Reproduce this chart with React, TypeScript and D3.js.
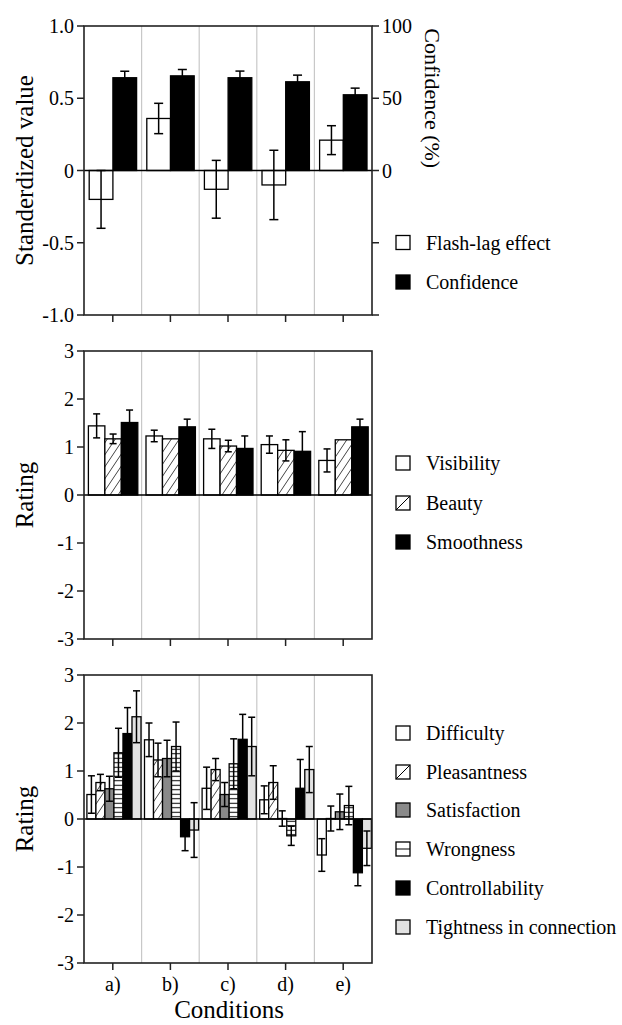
import React from "react";
import * as d3 from "d3";

// ---------- data ----------
const conditions = ["a)", "b)", "c)", "d)", "e)"];

// top panel
const flashLag = [-0.2, 0.36, -0.13, -0.1, 0.21];
const flashLagErr = [0.2, 0.105, 0.2, 0.24, 0.1];
const confidence = [64.2, 65.5, 64.2, 61.4, 52.4];
const confidenceErr = [4.5, 4.4, 4.6, 4.6, 4.6];
const topLeftTicks = [-1, -0.5, 0, 0.5, 1];
const topLeftTickLabels = ["-1.0", "-0.5", "0", "0.5", "1.0"];
const topRightTicks = [-100, -50, 0, 50, 100];
const topRightTickLabels = ["", "", "0", "50", "100"];

// middle panel
const visibility = [1.44, 1.23, 1.17, 1.05, 0.72];
const visibilityErr = [0.25, 0.12, 0.2, 0.18, 0.24];
const beauty = [1.17, 1.17, 1.02, 0.93, 1.15];
const beautyErr = [0.1, 0, 0.12, 0.22, 0];
const smoothness = [1.51, 1.42, 0.97, 0.91, 1.42];
const smoothnessErr = [0.26, 0.16, 0.26, 0.41, 0.16];

// bottom panel
const difficulty = [0.51, 1.65, 0.64, 0.4, -0.75];
const difficultyErr = [0.39, 0.35, 0.44, 0.29, 0.34];
const pleasantness = [0.76, 1.23, 1.03, 0.76, 0.01];
const pleasantnessErr = [0.17, 0.35, 0.23, 0.35, 0.26];
const satisfaction = [0.63, 1.26, 0.51, 0.01, 0.15];
const satisfactionErr = [0.26, 0.38, 0.25, 0.16, 0.37];
const wrongness = [1.38, 1.51, 1.15, -0.35, 0.28];
const wrongnessErr = [0.51, 0.51, 0.52, 0.2, 0.4];
const controllability = [1.78, -0.37, 1.66, 0.64, -1.12];
const controllabilityErr = [0.54, 0.29, 0.52, 0.6, 0.27];
const tightness = [2.13, -0.23, 1.51, 1.03, -0.61];
const tightnessErr = [0.54, 0.57, 0.61, 0.48, 0.36];

const ratingTicks = [-3, -2, -1, 0, 1, 2, 3];

// ---------- layout ----------
const W = 622;
const H = 1025;
const X_LEFT = 84;
const X_RIGHT = 372;
const LEGEND_TEXT_X = 426;
const FONT = "Liberation Serif, DejaVu Serif, Tinos, Times New Roman, Times, serif";

type Series = {
  name: string;
  values: number[];
  errs: number[];
  fill: string;
  icon: "plain" | "hatch" | "hlines";
  scale?: "right";
};

const xGroup = d3
  .scaleBand<string>()
  .domain(conditions)
  .range([X_LEFT, X_RIGHT])
  .paddingInner(0)
  .paddingOuter(0);

function Panel(props: {
  top: number;
  bottom: number;
  yDomain: [number, number];
  ticks: number[];
  tickLabels: string[];
  series: Series[];
  inner: [number, number];
  capHalf: number;
  title: string;
  legendY: number[];
  rightAxis?: { domain: [number, number]; ticks: number[]; labels: string[]; title: string };
  xLabels?: boolean;
}) {
  const { top, bottom, yDomain, ticks, tickLabels, series, inner, capHalf, title, legendY, rightAxis, xLabels } = props;
  const y = d3.scaleLinear().domain(yDomain).range([bottom, top]);
  const yR = rightAxis ? d3.scaleLinear().domain(rightAxis.domain).range([bottom, top]) : null;
  const xInner = d3
    .scaleBand<string>()
    .domain(series.map((s) => s.name))
    .range(inner)
    .paddingInner(0)
    .paddingOuter(0);
  const bw = xInner.bandwidth();
  const mid = (top + bottom) / 2;
  const separators = conditions.slice(1).map((c) => xGroup(c)!);

  return (
    <g>
      {separators.map((sx, i) => (
        <line key={"sep" + i} x1={sx} x2={sx} y1={top} y2={bottom} stroke="#c8c8c8" strokeWidth={1.2} />
      ))}
      {series.map((s) => {
        const sc = s.scale === "right" && yR ? yR : y;
        return (
          <g key={s.name}>
            {s.values.map((v, i) => {
              const gx = xGroup(conditions[i])! + xInner(s.name)!;
              const y0 = sc(0);
              const yv = sc(v);
              return (
                <rect
                  key={i}
                  x={gx}
                  y={Math.min(y0, yv)}
                  width={bw}
                  height={Math.abs(yv - y0)}
                  fill={s.fill}
                  stroke="#000"
                  strokeWidth={1.3}
                />
              );
            })}
          </g>
        );
      })}
      {series.map((s) => {
        const sc = s.scale === "right" && yR ? yR : y;
        return (
          <g key={s.name + "err"}>
            {s.values.map((v, i) => {
              const e = s.errs[i];
              if (!e) return null;
              const cx = xGroup(conditions[i])! + xInner(s.name)! + bw / 2;
              const yHi = sc(v + e);
              const yLo = sc(v - e);
              return (
                <g key={i} stroke="#000" strokeWidth={1.5}>
                  <line x1={cx} x2={cx} y1={yHi} y2={yLo} />
                  <line x1={cx - capHalf} x2={cx + capHalf} y1={yHi} y2={yHi} />
                  <line x1={cx - capHalf} x2={cx + capHalf} y1={yLo} y2={yLo} />
                </g>
              );
            })}
          </g>
        );
      })}
      <line x1={X_LEFT} x2={X_RIGHT} y1={y(0)} y2={y(0)} stroke="#000" strokeWidth={1.6} />
      <rect x={X_LEFT} y={top} width={X_RIGHT - X_LEFT} height={bottom - top} fill="none" stroke="#222" strokeWidth={1.6} />
      {ticks.map((t, i) => (
        <g key={"lt" + i}>
          <line x1={X_LEFT - 7} x2={X_LEFT} y1={y(t)} y2={y(t)} stroke="#222" strokeWidth={1.5} />
          <text x={X_LEFT - 10} y={y(t)} dy="0.35em" textAnchor="end" fontSize={20} style={{ fontFamily: FONT }}>
            {tickLabels[i]}
          </text>
        </g>
      ))}
      {conditions.map((c) => {
        const cx = xGroup(c)! + xGroup.bandwidth() / 2;
        return (
          <g key={"bt" + c}>
            <line x1={cx} x2={cx} y1={bottom} y2={bottom + 7} stroke="#222" strokeWidth={1.5} />
            {xLabels && (
              <text x={cx} y={bottom + 28} textAnchor="middle" fontSize={20} style={{ fontFamily: FONT }}>
                {c}
              </text>
            )}
          </g>
        );
      })}
      {rightAxis && yR &&
        rightAxis.ticks.map((t, i) => (
          <g key={"rt" + i}>
            <line x1={X_RIGHT} x2={X_RIGHT + 7} y1={yR(t)} y2={yR(t)} stroke="#222" strokeWidth={1.5} />
            {rightAxis.labels[i] && (
              <text x={X_RIGHT + 10} y={yR(t)} dy="0.35em" textAnchor="start" fontSize={20} style={{ fontFamily: FONT }}>
                {rightAxis.labels[i]}
              </text>
            )}
          </g>
        ))}
      {rightAxis && yR && (
        <text
          transform={`translate(${432},${(yR(0) + yR(100)) / 2}) rotate(90)`}
          textAnchor="middle"
          dominantBaseline="central"
          fontSize={22}
          style={{ fontFamily: FONT }}
        >
          {rightAxis.title}
        </text>
      )}
      <text
        transform={`translate(${24},${mid}) rotate(-90)`}
        textAnchor="middle"
        dominantBaseline="central"
        fontSize={25}
        style={{ fontFamily: FONT }}
      >
        {title}
      </text>
      {series.map((s, i) => {
        const ly = legendY[i];
        const sx = 396;
        const sz = 14;
        return (
          <g key={"lg" + s.name}>
            <rect x={sx} y={ly - sz / 2} width={sz} height={sz} fill={s.icon === "plain" ? s.fill : "#fff"} stroke="#000" strokeWidth={1.3} />
            {s.icon === "hatch" && (
              <line x1={sx} y1={ly + sz / 2} x2={sx + sz} y2={ly - sz / 2} stroke="#000" strokeWidth={1} />
            )}
            {s.icon === "hlines" && <line x1={sx} y1={ly} x2={sx + sz} y2={ly} stroke="#000" strokeWidth={1} />}
            <text x={LEGEND_TEXT_X} y={ly} dy="0.35em" fontSize={20} style={{ fontFamily: FONT }}>
              {s.name}
            </text>
          </g>
        );
      })}
    </g>
  );
}

export default function App() {
  const topSeries: Series[] = [
    { name: "Flash-lag effect", values: flashLag, errs: flashLagErr, fill: "#fff", icon: "plain" },
    { name: "Confidence", values: confidence, errs: confidenceErr, fill: "#000", icon: "plain", scale: "right" },
  ];
  const midSeries: Series[] = [
    { name: "Visibility", values: visibility, errs: visibilityErr, fill: "#fff", icon: "plain" },
    { name: "Beauty", values: beauty, errs: beautyErr, fill: "url(#hatch)", icon: "hatch" },
    { name: "Smoothness", values: smoothness, errs: smoothnessErr, fill: "#000", icon: "plain" },
  ];
  const botSeries: Series[] = [
    { name: "Difficulty", values: difficulty, errs: difficultyErr, fill: "#fff", icon: "plain" },
    { name: "Pleasantness", values: pleasantness, errs: pleasantnessErr, fill: "url(#hatch)", icon: "hatch" },
    { name: "Satisfaction", values: satisfaction, errs: satisfactionErr, fill: "#8a8a8a", icon: "plain" },
    { name: "Wrongness", values: wrongness, errs: wrongnessErr, fill: "url(#hlines)", icon: "hlines" },
    { name: "Controllability", values: controllability, errs: controllabilityErr, fill: "#000", icon: "plain" },
    { name: "Tightness in connection", values: tightness, errs: tightnessErr, fill: "#e2e2e2", icon: "plain" },
  ];

  return (
    <svg
      width={W}
      height={H}
      viewBox={`0 0 ${W} ${H}`}
      style={{ position: "absolute", left: 0, top: 0, background: "#fff", fontFamily: FONT }}
    >
      <defs>
        <pattern id="hatch" patternUnits="userSpaceOnUse" width={8} height={12}>
          <rect width={8} height={12} fill="#fff" />
          <line x1={0} y1={12} x2={8} y2={0} stroke="#444" strokeWidth={1} />
          <line x1={-1} y1={1.5} x2={1} y2={-1.5} stroke="#444" strokeWidth={1} />
          <line x1={7} y1={13.5} x2={9} y2={10.5} stroke="#444" strokeWidth={1} />
        </pattern>
        <pattern id="hlines" patternUnits="userSpaceOnUse" width={8} height={4.5}>
          <rect width={8} height={4.5} fill="#fff" />
          <line x1={0} y1={2.25} x2={8} y2={2.25} stroke="#000" strokeWidth={1} />
        </pattern>
      </defs>
      <rect width={W} height={H} fill="#fff" />
      <Panel
        top={26}
        bottom={315}
        yDomain={[-1, 1]}
        ticks={topLeftTicks}
        tickLabels={topLeftTickLabels}
        series={topSeries}
        inner={[5.2, 52.6]}
        capHalf={4.5}
        title="Standerdized value"
        legendY={[242.5, 282]}
        rightAxis={{ domain: [-100, 100], ticks: topRightTicks, labels: topRightTickLabels, title: "Confidence (%)" }}
      />
      <Panel
        top={351}
        bottom={639}
        yDomain={[-3, 3]}
        ticks={ratingTicks}
        tickLabels={ratingTicks.map(String)}
        series={midSeries}
        inner={[4.4, 53.8]}
        capHalf={3.5}
        title="Rating"
        legendY={[463, 503, 542]}
      />
      <Panel
        top={675}
        bottom={963}
        yDomain={[-3, 3]}
        ticks={ratingTicks}
        tickLabels={ratingTicks.map(String)}
        series={botSeries}
        inner={[2.9, 57]}
        capHalf={3.5}
        title="Rating"
        legendY={[733, 772, 810, 849, 888, 927]}
        xLabels
      />
      <text x={229} y={1018} textAnchor="middle" fontSize={25} style={{ fontFamily: FONT }}>
        Conditions
      </text>
    </svg>
  );
}
